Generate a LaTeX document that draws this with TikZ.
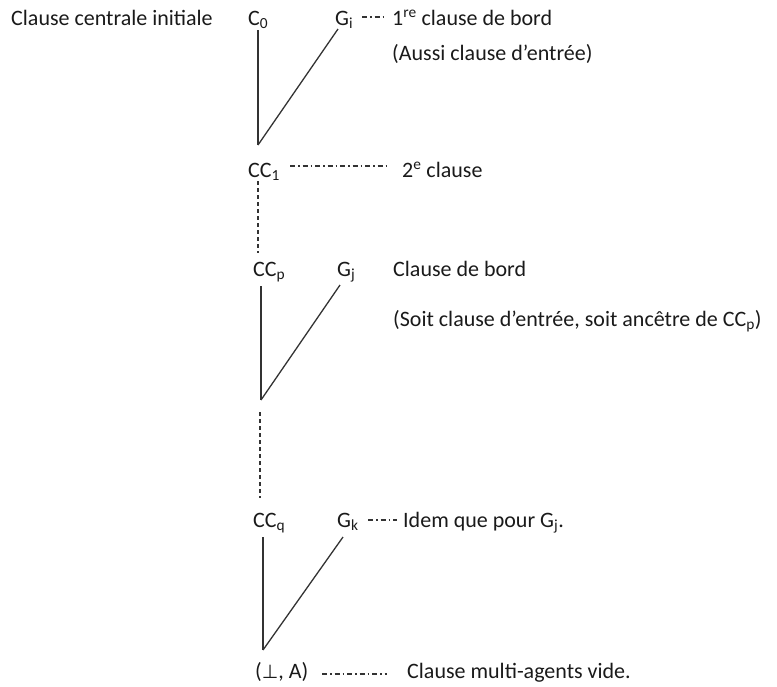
\documentclass[tikz,border=0pt]{standalone}
\usepackage{fontspec}
\setmainfont{Carlito}
\newfontfamily\symfnt{DejaVu Sans}
\definecolor{ink}{HTML}{1A1A1A}
\definecolor{wire}{HTML}{333333}
\begin{document}
\begin{tikzpicture}[x=1pt,y=-1pt,
  txt/.style={anchor=base west,inner sep=0pt,font=\fontsize{22}{26}\selectfont,text=ink},
  edgeline/.style={draw=wire,line width=1.3pt},
  vline/.style={draw=wire,line width=1.6pt},
  dashline/.style={draw=wire,line width=1.3pt,dash pattern=on 4pt off 3pt},
  dotdash/.style={draw=wire,line width=1.1pt,dash pattern=on 5pt off 3pt on 1.5pt off 3pt}]
\useasboundingbox (0,0) rectangle (777,686);

% texts
\node[txt] (init) at (11,25) {Clause centrale initiale};
\node[txt] (c0) at (248,25) {C\textsubscript{0}};
\node[txt] (gi) at (335,25) {G\textsubscript{i}};
\node[txt] (bord1) at (392,25) {1\textsuperscript{re} clause de bord};
\node[txt] (aussi) at (392,60) {(Aussi clause d’entrée)};
\node[txt] (cc1) at (248,177) {CC\textsubscript{1}};
\node[txt] (deux) at (402,177) {2\textsuperscript{e} clause};
\node[txt] (ccp) at (253,276) {CC\textsubscript{p}};
\node[txt] (gj) at (337,276) {G\textsubscript{j}};
\node[txt] (bordj) at (393,276) {Clause de bord};
\node[txt] (soit) at (393,326) {(Soit clause d’entrée, soit ancêtre de CC\textsubscript{p})};
\node[txt] (ccq) at (253,527) {CC\textsubscript{q}};
\node[txt] (gk) at (337,527) {G\textsubscript{k}};
\node[txt] (idem) at (403,527) {Idem que pour G\textsubscript{j}.};
\node[txt] (bot) at (255,678) {({\symfnt\fontsize{19}{22}\selectfont ⊥}, A)};
\node[txt] (vide) at (407,678) {Clause multi-agents vide.};

% connector end points
\coordinate (c0b) at (258,30);
\coordinate (gib) at (338,29);
\coordinate (j1) at (258,145);
\coordinate (cc1b) at (258,181);
\coordinate (ccpt) at (258,253);
\coordinate (ccpb) at (261,286);
\coordinate (gjb) at (340,285);
\coordinate (j2) at (261,400);
\coordinate (j2b) at (260,412);
\coordinate (ccqt) at (260,498);
\coordinate (ccqb) at (263,537);
\coordinate (gkb) at (343,537);
\coordinate (j3) at (263,650);

\coordinate (d1a) at (362,17);
\coordinate (d1b) at (387,17);
\coordinate (d2a) at (290,166);
\coordinate (d2b) at (387,166);
\coordinate (d3a) at (368,520);
\coordinate (d3b) at (397,520);
\coordinate (d4a) at (322,674);
\coordinate (d4b) at (387,674);

% tree
\draw[vline] (c0b) -- (j1);
\draw[edgeline] (gib) -- (j1);
\draw[dashline] (cc1b) -- (ccpt);
\draw[vline] (ccpb) -- (j2);
\draw[edgeline] (gjb) -- (j2);
\draw[dashline] (j2b) -- (ccqt);
\draw[vline] (ccqb) -- (j3);
\draw[edgeline] (gkb) -- (j3);

% dash-dot leaders
\draw[dotdash] (d1a) -- (d1b);
\draw[dotdash] (d2a) -- (d2b);
\draw[dotdash] (d3a) -- (d3b);
\draw[dotdash] (d4a) -- (d4b);
\end{tikzpicture}
\end{document}
